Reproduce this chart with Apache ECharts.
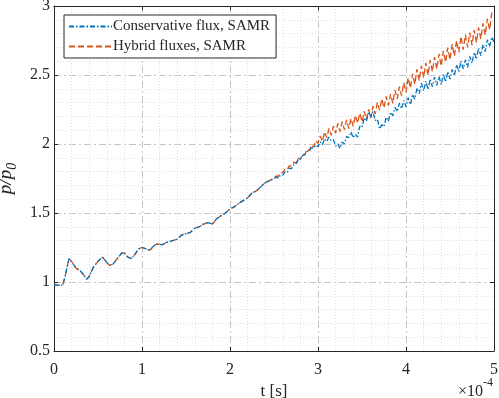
<!DOCTYPE html>
<html>
<head>
<meta charset="utf-8">
<script src="https://cdn.jsdelivr.net/npm/echarts@6/dist/echarts.min.js"></script>
<style>html,body{margin:0;padding:0;background:#fff;}#c{width:499px;height:398px;}</style>
</head>
<body>
<div id="c"></div>
<script>
var seriesNames = ['Conservative flux, SAMR', 'Hybrid fluxes, SAMR'];
var xTicks = [0, 1, 2, 3, 4, 5];
var yTicks = [0.5, 1, 1.5, 2, 2.5, 3];

var tEarly = [0.00,0.05,0.10,0.13,0.17,0.21,0.25,0.30,0.34,0.37,0.40,0.45,0.50,0.55,0.59,0.63,0.67,0.72,0.77,0.80,0.84,0.88,0.92,0.96,1.00,1.05,1.09,1.13,1.17,1.23,1.29,1.35,1.40,1.45,1.50,1.55,1.60,1.65,1.70,1.75,1.80,1.85,1.90,1.95,2.00,2.05,2.10,2.15,2.20,2.25,2.30,2.35,2.40,2.45,2.50];
var conservativeEarly = [0.98,0.975,0.98,1.05,1.17,1.14,1.10,1.08,1.05,1.02,1.04,1.11,1.15,1.18,1.15,1.12,1.13,1.17,1.21,1.21,1.18,1.17,1.20,1.24,1.25,1.24,1.23,1.26,1.275,1.27,1.29,1.30,1.31,1.34,1.35,1.36,1.39,1.40,1.42,1.43,1.42,1.46,1.48,1.50,1.53,1.545,1.57,1.59,1.61,1.645,1.66,1.69,1.72,1.735,1.75];
var hybridEarly = [0.98,0.975,0.98,1.05,1.17,1.14,1.10,1.08,1.05,1.02,1.04,1.11,1.15,1.18,1.15,1.12,1.13,1.17,1.21,1.21,1.18,1.17,1.20,1.24,1.25,1.24,1.23,1.26,1.275,1.27,1.29,1.30,1.31,1.34,1.35,1.36,1.39,1.40,1.42,1.43,1.42,1.46,1.48,1.50,1.53,1.545,1.57,1.59,1.61,1.645,1.66,1.69,1.72,1.735,1.75];

var tLate = [2.525,2.55,2.575,2.6,2.625,2.65,2.675,2.7,2.725,2.75,2.775,2.8,2.825,2.85,2.875,2.9,2.925,2.95,2.975,3.0,
3.025,3.05,3.075,3.1,3.125,3.15,3.175,3.2,3.225,3.25,3.275,3.3,3.325,3.35,3.375,3.4,3.425,3.45,3.475,3.5,
3.525,3.55,3.575,3.6,3.625,3.65,3.675,3.7,3.725,3.75,3.775,3.8,3.825,3.85,3.875,3.9,3.925,3.95,3.975,4.0,
4.025,4.05,4.075,4.1,4.125,4.15,4.175,4.2,4.225,4.25,4.275,4.3,4.325,4.35,4.375,4.4,4.425,4.45,4.475,4.5,
4.525,4.55,4.575,4.6,4.625,4.65,4.675,4.7,4.725,4.75,4.775,4.8,4.825,4.85,4.875,4.9,4.925,4.95,4.975,5.0];
var conservativeLate = [1.76,1.752,1.776,1.775,1.798,1.794,1.826,1.822,1.85,1.854,1.888,1.889,1.917,1.922,1.946,1.947,1.973,1.969,1.993,1.98,
2.015,1.995,2.038,2.018,2.05,2.025,2.032,1.985,2.002,1.968,2.015,2.002,2.055,2.045,2.088,2.045,2.07,2.05,2.13,2.12,
2.19,2.165,2.23,2.20,2.235,2.17,2.18,2.11,2.14,2.125,2.195,2.165,2.23,2.205,2.265,2.235,2.295,2.255,2.315,2.27,
2.335,2.285,2.36,2.325,2.405,2.365,2.44,2.385,2.455,2.395,2.47,2.415,2.485,2.425,2.49,2.43,2.505,2.45,2.525,2.47,
2.54,2.495,2.575,2.525,2.60,2.545,2.61,2.555,2.635,2.585,2.665,2.615,2.695,2.64,2.72,2.67,2.755,2.705,2.775,2.74];
var hybridLate = [1.768,1.766,1.794,1.792,1.818,1.814,1.844,1.84,1.868,1.862,1.898,1.89,1.929,1.922,1.963,1.952,1.993,1.978,2.023,2.005,
2.058,2.02,2.088,2.045,2.113,2.063,2.13,2.077,2.149,2.09,2.162,2.104,2.175,2.112,2.185,2.128,2.207,2.15,2.223,2.16,
2.237,2.178,2.25,2.19,2.275,2.218,2.302,2.245,2.328,2.262,2.345,2.278,2.362,2.295,2.39,2.327,2.415,2.35,2.445,2.375,
2.48,2.405,2.509,2.433,2.542,2.46,2.567,2.482,2.588,2.498,2.608,2.524,2.63,2.542,2.653,2.564,2.675,2.592,2.698,2.61,
2.724,2.637,2.75,2.665,2.78,2.683,2.792,2.70,2.808,2.717,2.826,2.735,2.844,2.762,2.874,2.79,2.907,2.828,2.95,2.96];

function pairs(ts, vs) { return ts.map(function (t, i) { return [t, vs[i]]; }); }
var conservativeData = pairs(tEarly, conservativeEarly).concat(pairs(tLate, conservativeLate));
var hybridData = pairs(tEarly, hybridEarly).concat(pairs(tLate, hybridLate));

var FONT = '"Liberation Serif", "DejaVu Serif", serif';
var TXT = '#262626';
var majorGrid = { show: true, lineStyle: { color: '#c4c4c4', width: 1, type: [7, 3, 2, 3] } };
var minorGrid = { show: true, lineStyle: { color: '#dedede', width: 1, type: [1, 2] } };
var axisLine = { show: true, onZero: false, lineStyle: { color: TXT, width: 1 } };
var tick = { show: true, inside: true, length: 4, lineStyle: { color: TXT } };

var chart = echarts.init(document.getElementById('c'), null, { renderer: 'canvas' });
chart.setOption({
  animation: false,
  backgroundColor: '#ffffff',
  grid: { left: 54, right: 5, top: 6, bottom: 47, containLabel: false, outerBoundsMode: 'none' },
  xAxis: [{
    type: 'value', min: xTicks[0], max: xTicks[xTicks.length - 1], interval: 1,
    axisLine: axisLine, axisTick: tick,
    axisLabel: { color: TXT, fontFamily: FONT, fontSize: 16, margin: 11 },
    splitLine: majorGrid, minorTick: { show: false, splitNumber: 5 }, minorSplitLine: minorGrid,
    name: 't [s]', nameLocation: 'middle', nameGap: 32,
    nameTextStyle: { color: TXT, fontFamily: FONT, fontSize: 17 }
  }, {
    type: 'value', position: 'top', min: xTicks[0], max: xTicks[xTicks.length - 1], interval: 1,
    axisLine: axisLine, axisTick: tick, axisLabel: { show: false }, splitLine: { show: false }
  }],
  yAxis: [{
    type: 'value', min: yTicks[0], max: yTicks[yTicks.length - 1], interval: 0.5,
    axisLine: axisLine, axisTick: tick,
    axisLabel: { color: TXT, fontFamily: FONT, fontSize: 16, margin: 4 },
    splitLine: majorGrid, minorTick: { show: false, splitNumber: 5 }, minorSplitLine: minorGrid,
    name: '{a|p/p}{b|0}', nameLocation: 'middle', nameGap: 27,
    nameTextStyle: {
      color: TXT,
      rich: {
        a: { fontFamily: FONT, fontStyle: 'italic', fontSize: 19, lineHeight: 26, verticalAlign: 'middle', color: TXT },
        b: { fontFamily: FONT, fontStyle: 'italic', fontSize: 14, lineHeight: 14, verticalAlign: 'bottom', color: TXT }
      }
    }
  }, {
    type: 'value', position: 'right', min: yTicks[0], max: yTicks[yTicks.length - 1], interval: 0.5,
    axisLine: axisLine, axisTick: tick, axisLabel: { show: false }, splitLine: { show: false }
  }],
  legend: {
    orient: 'vertical', left: 64, top: 15,
    data: seriesNames,
    backgroundColor: '#ffffff', borderColor: TXT, borderWidth: 1, borderRadius: 0,
    padding: [4, 6, 4, 4], itemGap: 5, itemWidth: 43, itemHeight: 14,
    itemStyle: { opacity: 0 },
    textStyle: { color: TXT, fontFamily: FONT, fontSize: 15, lineHeight: 15, padding: [0, 0, 0, -4] }
  },
  graphic: [{
    type: 'text', x: 483, y: 392,
    style: { text: '×10', fontFamily: FONT, fontSize: 16, fill: TXT, align: 'right', verticalAlign: 'middle' }
  }, {
    type: 'text', x: 483, y: 383,
    style: { text: '-4', fontFamily: FONT, fontSize: 12, fill: TXT, align: 'left', verticalAlign: 'middle' }
  }],
  series: [{
    name: seriesNames[0], type: 'line', data: conservativeData, showSymbol: false, symbol: 'none',
    z: 3, clip: true,
    lineStyle: { color: '#0072BD', width: 1.3, type: [5, 2, 1.5, 2] },
    itemStyle: { color: '#0072BD' }
  }, {
    name: seriesNames[1], type: 'line', data: hybridData, showSymbol: false, symbol: 'none',
    z: 2, clip: true,
    lineStyle: { color: '#D95319', width: 1.3, type: [6, 3] },
    itemStyle: { color: '#D95319' }
  }]
});
</script>
</body>
</html>
